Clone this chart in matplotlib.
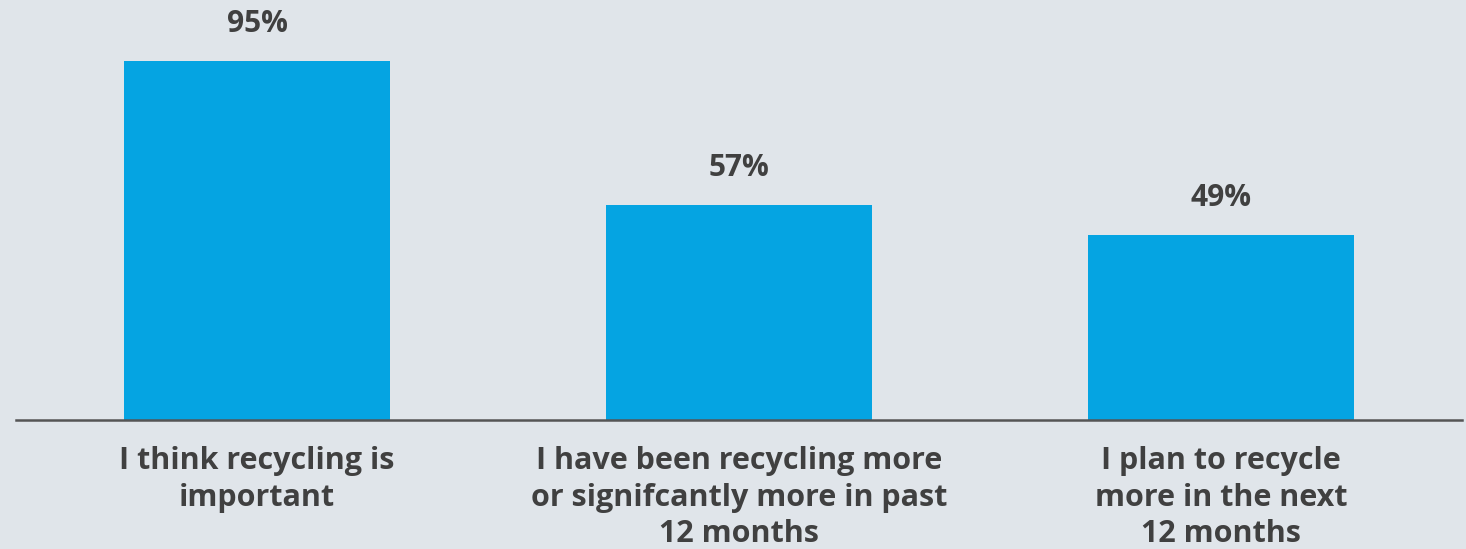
import matplotlib
matplotlib.use("Agg")
import matplotlib.pyplot as plt

categories = ["I think recycling is\nimportant",
              "I have been recycling more\nor signifcantly more in past\n12 months",
              "I plan to recycle\nmore in the next\n12 months"]
values = [95, 57, 49]
value_labels = ["95%", "57%", "49%"]

bg = "#e0e5ea"
bar_color = "#05a4e2"
text_color = "#404040"
font = "Open Sans"

fig = plt.figure(figsize=(14.66, 5.49), dpi=100, facecolor=bg)
ax = fig.add_axes([16/1466, 129/549, 1446/1466, 378/549])
ax.set_facecolor(bg)
x = list(range(len(categories)))
ax.bar(x, values, width=0.553, color=bar_color, zorder=2)
ax.set_xlim(-0.5, 2.5)
ax.set_ylim(0, 100)
for xi, v, lab in zip(x, values, value_labels):
    ax.annotate(lab, (xi, v), xytext=(0, 20.5), textcoords="offset points",
                ha="center", va="baseline", fontsize=21.5, fontweight="bold",
                color=text_color, family=font, annotation_clip=False)
for s in ["top", "right", "left"]:
    ax.spines[s].set_visible(False)
ax.spines["bottom"].set_color("#555555")
ax.spines["bottom"].set_linewidth(1.8)
ax.set_yticks([])
ax.set_xticks(x)
ax.set_xticklabels(categories, fontsize=22, fontweight="bold", color=text_color,
                   family=font, linespacing=1.28)
ax.tick_params(axis="x", length=0, pad=19)
fig.savefig("out.png", dpi=100, facecolor=bg)
